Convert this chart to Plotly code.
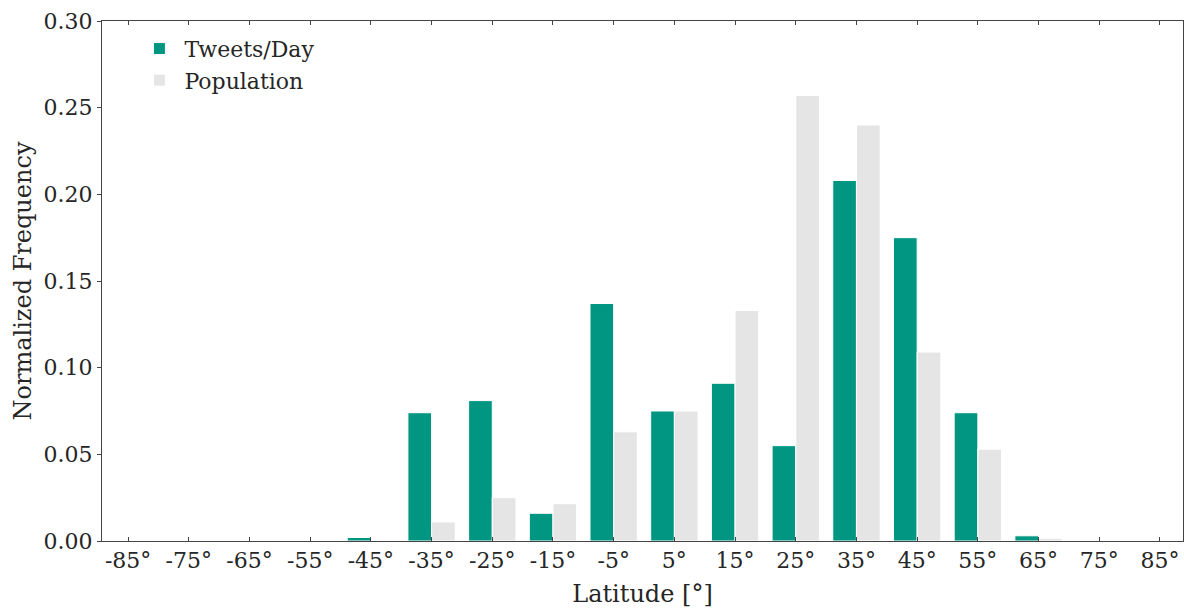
import plotly.graph_objects as go

latitudes = [-85, -75, -65, -55, -45, -35, -25, -15, -5, 5, 15, 25, 35, 45, 55, 65, 75, 85]
tick_labels = [f"{v}°" for v in latitudes]
tweets_per_day = [0, 0, 0, 0, 0.002, 0.074, 0.081, 0.016, 0.137, 0.075, 0.091, 0.055, 0.208, 0.175, 0.074, 0.003, 0, 0]
population = [0, 0, 0, 0, 0, 0.011, 0.025, 0.0215, 0.063, 0.075, 0.133, 0.257, 0.240, 0.109, 0.053, 0.0016, 0, 0]

font_family = "DejaVu Serif"
axis_color = "#444444"

fig = go.Figure()
fig.add_trace(go.Bar(x=latitudes, y=tweets_per_day, name="Tweets/Day",
                     marker=dict(color="#009682", line=dict(color="white", width=1))))
fig.add_trace(go.Bar(x=latitudes, y=population, name="Population",
                     marker=dict(color="#e5e5e5", line=dict(color="white", width=1))))

fig.update_layout(
    width=1184, height=608,
    margin=dict(l=102, r=1, t=21, b=67, autoexpand=False),
    barmode="group", bargap=0.22, bargroupgap=0,
    plot_bgcolor="white", paper_bgcolor="white",
    font=dict(family=font_family, size=22, color="#262626"),
    legend=dict(x=0.030, y=0.987, xanchor="left", yanchor="top",
                bgcolor="rgba(0,0,0,0)", font=dict(size=22), itemwidth=40,
                tracegroupgap=6),
    showlegend=True,
)
fig.update_xaxes(
    range=[-89.3, 88.8], tickvals=latitudes, ticktext=tick_labels, automargin=False,
    showgrid=False, zeroline=False, showline=True, linecolor=axis_color, linewidth=1,
    mirror="ticks", ticks="inside", ticklen=4, tickcolor=axis_color,
    title=dict(text="Latitude [°]", font=dict(size=24), standoff=12),
    tickfont=dict(size=22),
)
fig.update_yaxes(
    range=[0, 0.30], dtick=0.05, tickformat=".2f", automargin=False,
    showgrid=False, zeroline=False, showline=True, linecolor=axis_color, linewidth=1,
    mirror="ticks", ticks="outside", ticklen=4, tickcolor=axis_color,
    title=dict(text="Normalized Frequency", font=dict(size=24), standoff=5),
    tickfont=dict(size=22),
)

fig.write_html("out.html", config={"displayModeBar": False},
               post_script="document.body.style.margin='0';document.body.style.overflow='hidden';")
